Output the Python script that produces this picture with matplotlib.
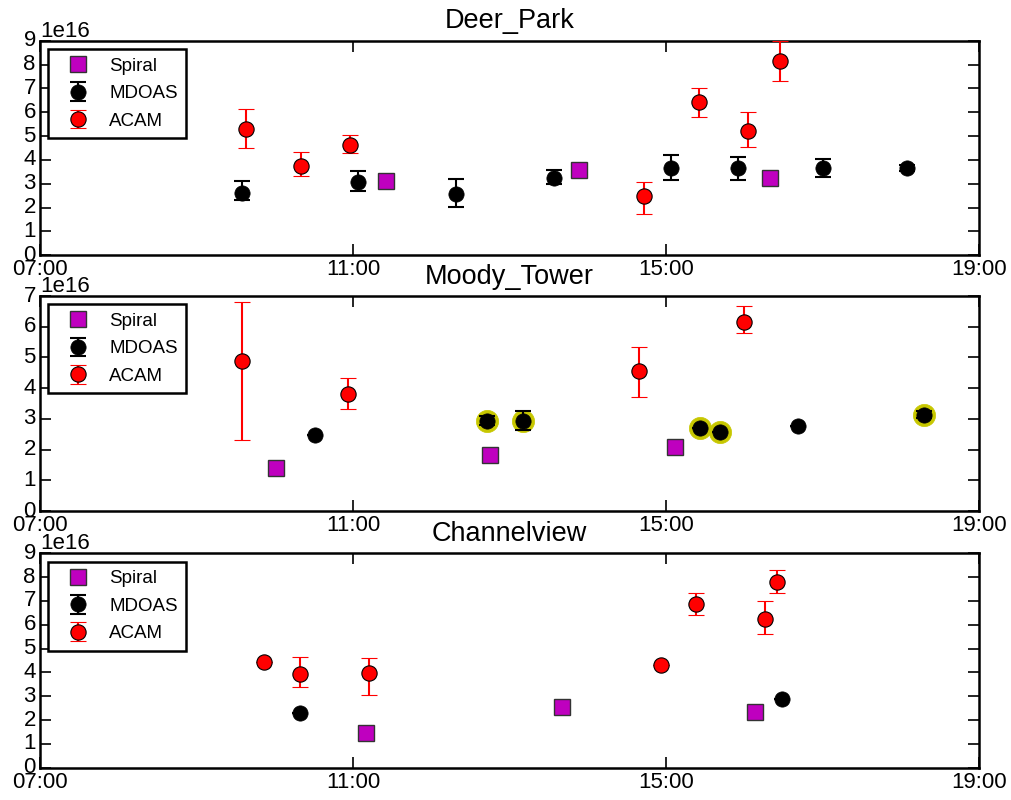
import datetime as dt
import matplotlib
matplotlib.use("Agg")
import matplotlib.pyplot as plt
import matplotlib.dates as mdates

plt.style.use("classic")
plt.rcParams["font.family"] = ["Liberation Sans", "DejaVu Sans"]

DAY = "2013-09-25"

# ---- Deer_Park ----
dp_spiral_t = ["11:25", "13:53", "16:20"]
dp_spiral_v = [3.11, 3.57, 3.26]
dp_mdoas_t = ["09:35", "11:04", "12:19", "13:34", "15:04", "15:55", "17:00", "18:05"]
dp_mdoas_v = [2.62, 3.08, 2.56, 3.22, 3.64, 3.68, 3.66, 3.67]
dp_mdoas_lo = [0.32, 0.38, 0.54, 0.25, 0.50, 0.54, 0.38, 0.12]
dp_mdoas_hi = [0.50, 0.46, 0.63, 0.36, 0.57, 0.45, 0.39, 0.12]
dp_acam_t = ["09:38", "10:20", "10:58", "14:43", "15:25", "16:03", "16:27"]
dp_acam_v = [5.29, 3.75, 4.63, 2.49, 6.41, 5.22, 8.15]
dp_acam_lo = [0.78, 0.42, 0.32, 0.78, 0.62, 0.67, 0.83]
dp_acam_hi = [0.83, 0.58, 0.41, 0.59, 0.61, 0.79, 0.85]

# ---- Moody_Tower ----
mt_spiral_t = ["10:01", "12:45", "15:07"]
mt_spiral_v = [1.39, 1.82, 2.09]
mt_mdoas_t = ["10:31", "12:43", "13:10", "15:26", "15:41", "16:41", "18:18"]
mt_mdoas_v = [2.48, 2.94, 2.94, 2.72, 2.58, 2.77, 3.14]
mt_mdoas_lo = [0.0, 0.15, 0.30, 0.0, 0.0, 0.0, 0.12]
mt_mdoas_hi = [0.0, 0.15, 0.32, 0.0, 0.0, 0.0, 0.12]
mt_mdoas_flag = [False, True, True, True, True, False, True]
mt_acam_t = ["09:35", "10:56", "14:39", "16:00"]
mt_acam_v = [4.90, 3.82, 4.57, 6.15]
mt_acam_lo = [2.59, 0.50, 0.86, 0.34]
mt_acam_hi = [1.91, 0.50, 0.78, 0.52]

# ---- Channelview ----
cv_spiral_t = ["11:10", "13:40", "16:08"]
cv_spiral_v = [1.44, 2.54, 2.33]
cv_mdoas_t = ["10:19", "16:29"]
cv_mdoas_v = [2.31, 2.87]
cv_mdoas_lo = [0.0, 0.0]
cv_mdoas_hi = [0.0, 0.0]
cv_acam_t = ["09:52", "10:19", "11:12", "14:56", "15:23", "16:16", "16:25"]
cv_acam_v = [4.45, 3.95, 3.99, 4.29, 6.88, 6.23, 7.80]
cv_acam_lo = [0.0, 0.57, 0.92, 0.0, 0.46, 0.61, 0.45]
cv_acam_hi = [0.0, 0.71, 0.61, 0.0, 0.47, 0.75, 0.51]

SCALE = 1e16
tick_times = ["07:00", "11:00", "15:00", "19:00"]


def to_dt(times):
    return [dt.datetime.strptime(f"{DAY} {t}", "%Y-%m-%d %H:%M") for t in times]


def sc(vals):
    return [v * SCALE for v in vals]


sites = [
    dict(name="Deer_Park", ymax=9,
         spiral=(dp_spiral_t, dp_spiral_v),
         mdoas=(dp_mdoas_t, dp_mdoas_v, dp_mdoas_lo, dp_mdoas_hi, None),
         acam=(dp_acam_t, dp_acam_v, dp_acam_lo, dp_acam_hi)),
    dict(name="Moody_Tower", ymax=7,
         spiral=(mt_spiral_t, mt_spiral_v),
         mdoas=(mt_mdoas_t, mt_mdoas_v, mt_mdoas_lo, mt_mdoas_hi, mt_mdoas_flag),
         acam=(mt_acam_t, mt_acam_v, mt_acam_lo, mt_acam_hi)),
    dict(name="Channelview", ymax=9,
         spiral=(cv_spiral_t, cv_spiral_v),
         mdoas=(cv_mdoas_t, cv_mdoas_v, cv_mdoas_lo, cv_mdoas_hi, None),
         acam=(cv_acam_t, cv_acam_v, cv_acam_lo, cv_acam_hi)),
]

fig = plt.figure(figsize=(10.11, 8.0), dpi=100, facecolor="white")
boxes = [(0.0396, 0.681, 0.9288, 0.268),
         (0.0396, 0.361, 0.9288, 0.269),
         (0.0396, 0.0404, 0.9288, 0.268)]

for box, s in zip(boxes, sites):
    ax = fig.add_axes(box)
    for sp in ax.spines.values():
        sp.set_linewidth(1.8)

    st, sv = s["spiral"]
    ax.plot(to_dt(st), sc(sv), "s", color="m", mec="#333333", mew=1.0,
            ms=11, label="Spiral", zorder=3)

    mt, mv, mlo, mhi, flag = s["mdoas"]
    if flag is not None:
        ft = [t for t, f in zip(mt, flag) if f]
        fv = [v for v, f in zip(mv, flag) if f]
        ax.plot(to_dt(ft), sc(fv), "o", color=(0.78, 0.78, 0.0),
                mec=(0.78, 0.78, 0.0), ms=16, zorder=2)
    ax.errorbar(to_dt(mt), sc(mv), yerr=[sc(mlo), sc(mhi)], fmt="o",
                color="black", mfc="black", mec="black", ecolor="black",
                ms=11, capsize=6, elinewidth=1.5, capthick=1.5,
                label="MDOAS", zorder=3)

    at, av, alo, ahi = s["acam"]
    ax.errorbar(to_dt(at), sc(av), yerr=[sc(alo), sc(ahi)], fmt="o",
                mfc="red", mec="black", ecolor="red", ms=11, mew=0.8,
                capsize=6, elinewidth=1.5, capthick=1.5,
                label="ACAM", zorder=4)

    ax.set_xlim(to_dt(["07:00"])[0], to_dt(["19:00"])[0])
    ax.set_xticks(to_dt(tick_times))
    ax.xaxis.set_major_formatter(mdates.DateFormatter("%H:%M"))
    ax.set_ylim(0, s["ymax"] * SCALE)
    ax.set_yticks(sc(range(0, s["ymax"] + 1)))
    ax.tick_params(axis="both", labelsize=16, length=8, width=1.2, pad=3)
    ax.yaxis.get_offset_text().set_fontsize(16)
    ax.set_title(s["name"], fontsize=19.5, pad=9)

    leg = ax.legend(loc="upper left", numpoints=1, fontsize=13.5,
                    borderaxespad=0.45, handlelength=2.2, handletextpad=0.6,
                    labelspacing=0.55, borderpad=0.45)
    leg.get_frame().set_linewidth(1.8)

fig.savefig("out.png", dpi=100, facecolor="white")
